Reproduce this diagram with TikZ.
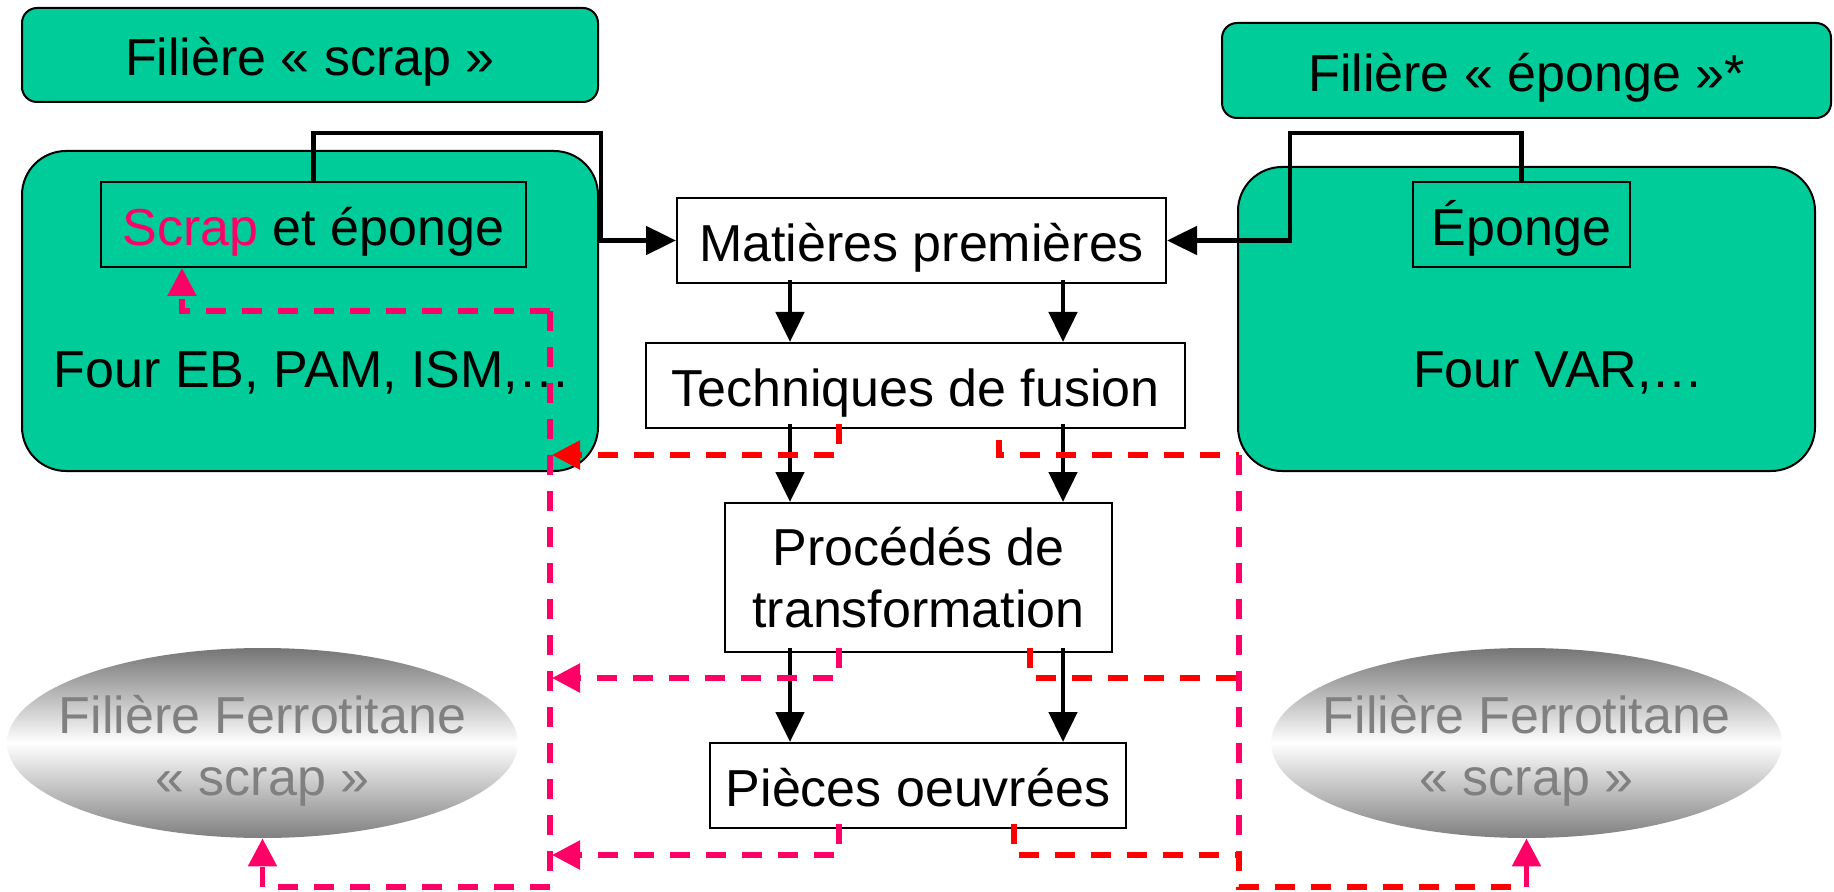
\documentclass[tikz,border=0pt]{standalone}
\usepackage{fontspec}
\setmainfont{Liberation Sans}
\usetikzlibrary{arrows.meta,shapes.geometric,calc}
\definecolor{vert}{HTML}{00CC99}
\definecolor{rose}{HTML}{FF0066}
\definecolor{rouge}{HTML}{FF0000}
\definecolor{gristxt}{HTML}{808080}
\begin{document}
\begin{tikzpicture}[x=0.5pt,y=-0.5pt,font=\fontsize{26pt}{31pt}\selectfont,
  titlebox/.style={draw=black,line width=1pt,fill=vert,rounded corners=7.5pt,inner sep=0pt,text height=21pt,text depth=0pt},
  bigbox/.style={draw=black,line width=1pt,fill=vert,rounded corners=22pt,inner sep=0pt},
  inbox/.style={draw=black,line width=1pt,inner sep=0pt,text height=21pt,text depth=0pt},
  flowbox/.style={draw=black,line width=1pt,fill=white,inner sep=0pt,text height=21pt,text depth=0pt},
  flowbox2/.style={draw=black,line width=1pt,fill=white,inner sep=0pt,align=center},
  ovalbox/.style={ellipse,inner sep=0pt,minimum width=255.5pt,minimum height=95pt,
     top color=black!54,bottom color=black!50,middle color=white},
  graytext/.style={text=gristxt,align=center,anchor=base,inner sep=0pt},
  blk/.style={line width=2.4pt,-{Triangle[length=15pt,width=14pt]}},
  tipp/.style={-{Triangle[length=14pt,width=14pt]}},
  pinkdash/.style={draw=rose,line width=2.7pt,dash pattern=on 10pt off 8pt},
  reddash/.style={draw=rouge,line width=2.7pt,dash pattern=on 10pt off 8pt},
  pinkline/.style={draw=rose,line width=2.7pt}]
\useasboundingbox (0,0) rectangle (1834,892);

% ellipses
\node[ovalbox] (el) at (262.5,743) {};
\node[ovalbox] (er) at (1526.5,743) {};
\node[graytext] (elt) at (262.5,795) {Filière Ferrotitane\\« scrap »};
\node[graytext] (ert) at (1526.5,795) {Filière Ferrotitane\\« scrap »};

% title boxes
\node[titlebox,minimum width=288pt,minimum height=47pt] (fs) at (310,55) {Filière « scrap »};
\node[titlebox,minimum width=304.5pt,minimum height=47.5pt] (fe) at (1526.5,70.5) {Filière « éponge »*};

% big boxes
\node[bigbox,minimum width=288pt,minimum height=160pt] (bl) at (310,311) {};
\node[bigbox,minimum width=288.5pt,minimum height=152pt] (br) at (1526.5,319) {};
\node[inbox,minimum width=212.5pt,minimum height=42.5pt] (se) at (313.5,224.5) {\textcolor{rose}{Scrap} et éponge};
\node[inbox,minimum width=108.5pt,minimum height=42.5pt] (ep) at (1521.5,224.5) {Éponge};
\node[anchor=base,inner sep=0pt] (feb) at (312,388) {Four EB, PAM, ISM,…};
\node[anchor=base,inner sep=0pt] (fvar) at (1558.5,388) {Four VAR,…};

% flow boxes
\node[flowbox,minimum width=244.5pt,minimum height=42.5pt] (mp) at (921.5,240.5) {Matières premières};
\node[flowbox,minimum width=269.5pt,minimum height=42.5pt] (tf) at (915.5,385.5) {Techniques de fusion};
\node[flowbox2,minimum width=193.5pt,minimum height=74.5pt] (pt) at (918.5,577.5) {Procédés de\\transformation};
\node[flowbox,minimum width=208pt,minimum height=42.5pt] (po) at (918,785.5) {Pièces oeuvrées};

% helper coordinates
\coordinate (k1) at (601,133);
\coordinate (k2) at (1290,133);
\coordinate (xd1) at (790,0);
\coordinate (xd2) at (1063,0);
\coordinate (xl) at (839,0);
\coordinate (xa) at (182,0);
\coordinate (xr1) at (999,0);
\coordinate (xr2) at (1030,0);
\coordinate (xr3) at (1014,0);
\coordinate (L1) at (550,311);
\coordinate (L2) at (550,887);
\coordinate (a1) at (552,455);
\coordinate (a2) at (552,678);
\coordinate (a3) at (552,855);
\coordinate (R1) at (1239,455);
\coordinate (R2) at (1239,887);
\coordinate (R3) at (1239,678);
\coordinate (R4) at (1239,855);

% black connectors
\draw[blk] (se.north) |- (k1) |- (mp.west);
\draw[blk] (ep.north) |- (k2) |- (mp.east);
\draw[blk] ([yshift=2pt]mp.south -| xd1) -- (tf.north -| xd1);
\draw[blk] ([yshift=2pt]mp.south -| xd2) -- (tf.north -| xd2);
\draw[blk] ([yshift=2.5pt]tf.south -| xd1) -- (pt.north -| xd1);
\draw[blk] ([yshift=2.5pt]tf.south -| xd2) -- (pt.north -| xd2);
\draw[blk] ([yshift=2.5pt]pt.south -| xd1) -- (po.north -| xd1);
\draw[blk] ([yshift=2.5pt]pt.south -| xd2) -- (po.north -| xd2);

% left dashed collector
\draw[pinkdash] (L1) -- (L2);
\draw[pinkdash,tipp] (L1) -| (se.south -| xa);
\draw[pinkdash,tipp] (L2) -| (el.south);
\draw[reddash,tipp] ([yshift=2.5pt]tf.south -| xl) |- (a1);
\draw[pinkdash,tipp] ([yshift=2.5pt]pt.south -| xl) |- (a2);
\draw[pinkdash,tipp] ([yshift=2.5pt]po.south -| xl) |- (a3);

% right dashed collector
\draw[reddash] ([yshift=-5.5pt]tf.south -| xr1) |- (R1);
\draw[pinkdash] (R1) -- (R2);
\draw[reddash] ([yshift=2.5pt]pt.south -| xr2) |- (R3);
\draw[reddash] ([yshift=2.5pt]po.south -| xr3) |- (R4) -- (R2) -- (er.south |- R2);
\draw[pinkline,tipp] (er.south |- R2) -- (er.south);
\end{tikzpicture}
\end{document}
